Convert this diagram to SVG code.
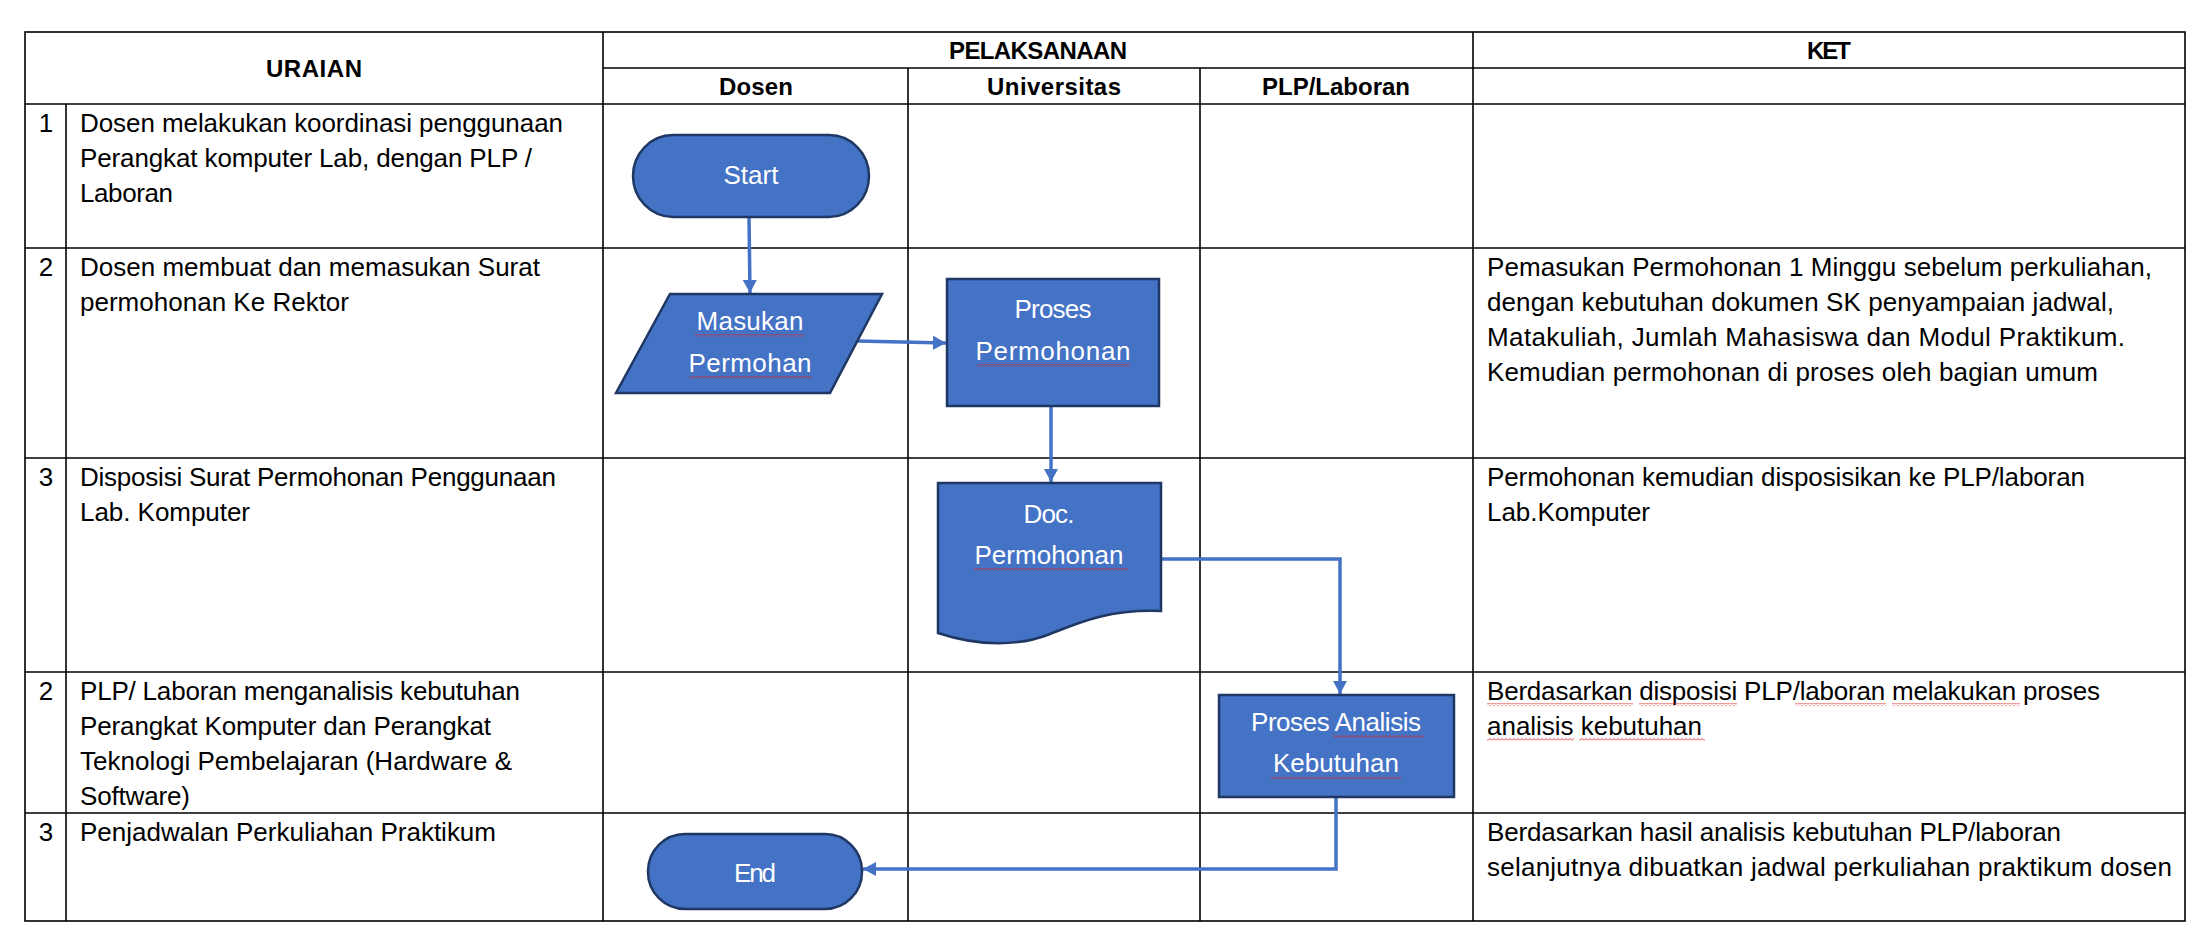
<svg xmlns="http://www.w3.org/2000/svg" width="2208" height="941" viewBox="0 0 2208 941">
<style>
.t{font-family:"Liberation Sans",Arial,sans-serif;font-size:26px;fill:#000}
.h{font-family:"Liberation Sans",Arial,sans-serif;font-size:24px;font-weight:bold;fill:#000;text-anchor:middle}
.n{font-family:"Liberation Sans",Arial,sans-serif;font-size:26px;fill:#000;text-anchor:middle}
.w{font-family:"Liberation Sans",Arial,sans-serif;font-size:26px;fill:#fff;text-anchor:middle}
.grid{stroke:#000;stroke-width:1.6;fill:none}
.shape{fill:#4472C4;stroke:#1F3763;stroke-width:2.5}
.conn{fill:none;stroke:#4472C4;stroke-width:3.5}
.sq{fill:url(#sq)}
</style>
<defs>
<marker id="ah" markerUnits="userSpaceOnUse" markerWidth="14" markerHeight="14" refX="13" refY="7" orient="auto">
<path d="M0,0 L13,7 L0,14 Z" fill="#4472C4"/>
</marker>
<pattern id="sq" patternUnits="userSpaceOnUse" width="4" height="3">
<path d="M0,2.5 L2,0.5 L4,2.5" fill="none" stroke="#E0201F" stroke-width="0.9"/>
</pattern>
</defs>
<rect width="2208" height="941" fill="#fff"/>

<g id="table">
<rect class="grid" x="25" y="32" width="2160" height="889"/>
<line class="grid" x1="603" y1="68" x2="2185" y2="68"/>
<line class="grid" x1="25" y1="104" x2="2185" y2="104"/>
<line class="grid" x1="25" y1="248" x2="2185" y2="248"/>
<line class="grid" x1="25" y1="458" x2="2185" y2="458"/>
<line class="grid" x1="25" y1="672" x2="2185" y2="672"/>
<line class="grid" x1="25" y1="813" x2="2185" y2="813"/>
<line class="grid" x1="66" y1="104" x2="66" y2="921"/>
<line class="grid" x1="603" y1="32" x2="603" y2="921"/>
<line class="grid" x1="908" y1="68" x2="908" y2="921"/>
<line class="grid" x1="1200" y1="68" x2="1200" y2="921"/>
<line class="grid" x1="1473" y1="32" x2="1473" y2="921"/>
</g>

<g id="headers">
<text class="h" x="314" y="77" textLength="96">URAIAN</text>
<text class="h" x="1038" y="59" textLength="178">PELAKSANAAN</text>
<text class="h" x="1829" y="59" textLength="44">KET</text>
<text class="h" x="756" y="95" textLength="74">Dosen</text>
<text class="h" x="1054" y="95" textLength="134">Universitas</text>
<text class="h" x="1336" y="95" textLength="148">PLP/Laboran</text>
</g>

<g id="uraian">
<text class="n" x="46" y="132">1</text>
<text class="t" x="80" y="132" textLength="483">Dosen melakukan koordinasi penggunaan</text>
<text class="t" x="80" y="167" textLength="452">Perangkat komputer Lab, dengan PLP /</text>
<text class="t" x="80" y="202" textLength="93">Laboran</text>
<text class="n" x="46" y="276">2</text>
<text class="t" x="80" y="276" textLength="460">Dosen membuat dan memasukan Surat</text>
<text class="t" x="80" y="311" textLength="269">permohonan Ke Rektor</text>
<text class="n" x="46" y="486">3</text>
<text class="t" x="80" y="486" textLength="476">Disposisi Surat Permohonan Penggunaan</text>
<text class="t" x="80" y="521" textLength="170">Lab. Komputer</text>
<text class="n" x="46" y="700">2</text>
<text class="t" x="80" y="700" textLength="440">PLP/ Laboran menganalisis kebutuhan</text>
<text class="t" x="80" y="735" textLength="411">Perangkat Komputer dan Perangkat</text>
<text class="t" x="80" y="770" textLength="432">Teknologi Pembelajaran (Hardware &amp;</text>
<text class="t" x="80" y="805" textLength="110">Software)</text>
<text class="n" x="46" y="841">3</text>
<text class="t" x="80" y="841" textLength="416">Penjadwalan Perkuliahan Praktikum</text>
</g>

<g id="ket">
<text class="t" x="1487" y="276" textLength="665">Pemasukan Permohonan 1 Minggu sebelum perkuliahan,</text>
<text class="t" x="1487" y="311" textLength="627">dengan kebutuhan dokumen SK penyampaian jadwal,</text>
<text class="t" x="1487" y="346" textLength="638">Matakuliah, Jumlah Mahasiswa dan Modul Praktikum.</text>
<text class="t" x="1487" y="381" textLength="611">Kemudian permohonan di proses oleh bagian umum</text>
<text class="t" x="1487" y="486" textLength="598">Permohonan kemudian disposisikan ke PLP/laboran</text>
<text class="t" x="1487" y="521" textLength="163">Lab.Komputer</text>
<text class="t" x="1487" y="700" textLength="613">Berdasarkan disposisi PLP/laboran melakukan proses</text>
<text class="t" x="1487" y="735" textLength="215">analisis kebutuhan</text>
<rect class="sq" x="1487" y="703" width="146" height="3"/>
<rect class="sq" x="1639" y="703" width="98" height="3"/>
<rect class="sq" x="1795" y="703" width="91" height="3"/>
<rect class="sq" x="1892" y="703" width="128" height="3"/>
<rect class="sq" x="1487" y="738" width="87" height="3"/>
<rect class="sq" x="1579" y="738" width="126" height="3"/>
<text class="t" x="1487" y="841" textLength="574">Berdasarkan hasil analisis kebutuhan PLP/laboran</text>
<text class="t" x="1487" y="876" textLength="685">selanjutnya dibuatkan jadwal perkuliahan praktikum dosen</text>
</g>

<g id="connectors">
<path class="conn" d="M749,217 L750,293" marker-end="url(#ah)"/>
<path class="conn" d="M857,341 L946,343" marker-end="url(#ah)"/>
<path class="conn" d="M1051,407 L1051,482" marker-end="url(#ah)"/>
<path class="conn" d="M1161,559 H1340 V694" marker-end="url(#ah)"/>
<path class="conn" d="M1336,798 V869 H863" marker-end="url(#ah)"/>
</g>

<g id="start">
<rect class="shape" x="633" y="135" width="236" height="82" rx="40" ry="41"/>
<text class="w" x="751" y="184" textLength="55">Start</text>
</g>

<g id="masukan">
<path class="shape" d="M670,294 L882,294 L830,393 L616,393 Z"/>
<text class="w" x="750" y="330" textLength="107">Masukan</text>
<text class="w" x="750" y="372" textLength="123">Permohan</text>
<rect class="sq" x="695" y="334" width="109" height="3"/>
<rect class="sq" x="689" y="376" width="123" height="3"/>
</g>

<g id="proses">
<rect class="shape" x="947" y="279" width="212" height="127"/>
<text class="w" x="1053" y="318" textLength="77">Proses</text>
<text class="w" x="1053" y="360" textLength="155">Permohonan</text>
<rect class="sq" x="977" y="364" width="153" height="3"/>
</g>

<g id="doc">
<path class="shape" d="M938,483 H1161 V611 C1110,609 1080,622 1050,634 C1020,646 980,647 938,633 Z"/>
<text class="w" x="1049" y="523" textLength="51">Doc.</text>
<text class="w" x="1049" y="564" textLength="149">Permohonan</text>
<rect class="sq" x="974" y="568" width="154" height="3"/>
</g>

<g id="analisis">
<rect class="shape" x="1219" y="695" width="235" height="102"/>
<text class="w" x="1336" y="731" textLength="170">Proses Analisis</text>
<text class="w" x="1336" y="772" textLength="126">Kebutuhan</text>
<rect class="sq" x="1333" y="735" width="91" height="3"/>
<rect class="sq" x="1271" y="776" width="130" height="3"/>
</g>

<g id="end">
<rect class="shape" x="648" y="834" width="214" height="75" rx="37" ry="37"/>
<text class="w" x="755" y="882" textLength="42">End</text>
</g>
</svg>
